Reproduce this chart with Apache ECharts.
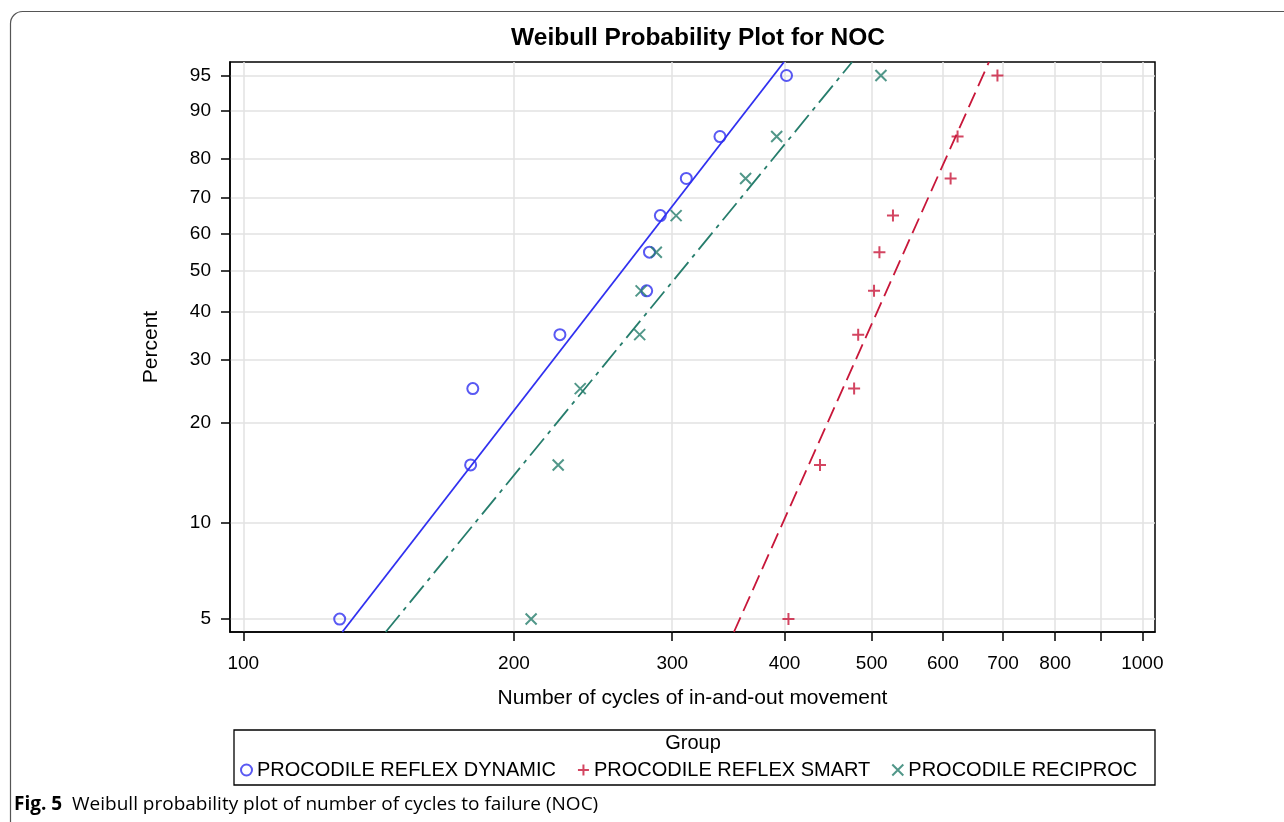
<!DOCTYPE html>
<html>
<head>
<meta charset="utf-8">
<title>Weibull Probability Plot for NOC</title>
<script src="https://cdn.jsdelivr.net/npm/echarts@6/dist/echarts.min.js"></script>
<style>
    html, body { margin: 0; padding: 0; background: #fff; }
    #chart { width: 1284px; height: 822px; }
</style>
</head>
<body>
<div id="chart"></div>
<script>
/*
 * Weibull probability plot, three file groups.
 * x is drawn on a log10 axis, y on the Weibull scale ln(-ln(1-p)).
 */

var GROUPS = ["PROCODILE REFLEX DYNAMIC", "PROCODILE REFLEX SMART",
    "PROCODILE RECIPROC"];
var COLORS = ["#3030f0", "#c8173a", "#267d6c"];

// plotting positions (percent) shared by every group
var percentRanks = [5, 15, 25, 35, 45, 55, 65, 75, 85, 95];

// cycles to failure, sorted, one value per percent rank
var dynamicCycles = [128, 179, 180, 225, 281, 283, 291, 311, 339, 402];
var smartCycles = [404, 438, 478, 483, 503, 510, 528, 612, 623, 690];
var reciprocCycles = [209, 224, 237, 276, 277, 288, 303, 362, 392, 512];

// fitted Weibull lines: shape and scale per group
var fitShape = [3.77, 6.53, 3.57];
var fitScale = [290.7, 562, 340];

// axis ticks
var xTicks = [100, 200, 300, 400, 500, 600, 700, 800, 900, 1000];
var xLabels = [100, 200, 300, 400, 500, 600, 700, 800, 1000];
var yTicks = [5, 10, 20, 30, 40, 50, 60, 70, 80, 90, 95];

var FONT = "Liberation Sans, Arial, sans-serif";
var X_MIN = 1.9852, X_MAX = 3.0141;
var Y_MIN = -3.067, Y_MAX = 1.198;

function weib(p)
{
    return Math.log(-Math.log(1 - p / 100));
}

function lg(v)
{
    return Math.log(v) / Math.LN10;
}

function make_points(cycles)
{
    var out = [];
    for (var i = 0; i < cycles.length; i++)
        out.push([lg(cycles[i]), weib(percentRanks[i])]);
    return out;
}

function make_fit(k)
{
    // straight line in probability space, from bottom edge to top edge
    var out = [];
    [Y_MIN, Y_MAX].forEach(function (w) {
        out.push([lg(fitScale[k] * Math.exp(w / fitShape[k])), w]);
    });
    return out;
}

var SYMBOLS = [
    "circle",
    "path://M0,5L10,5M5,0L5,10",
    "path://M0,0L10,10M10,0L0,10"
];
var SYMBOL_SIZE = [11, 12, 11];
var LINE_DASH = ["solid", [16, 7], [22, 6, 4, 6]];
var allCycles = [dynamicCycles, smartCycles, reciprocCycles];

var series = [];
for (var k = 0; k < GROUPS.length; k++) {
    series.push({
        name: GROUPS[k] + " fit",
        type: "line",
        data: make_fit(k),
        symbol: "none",
        silent: true,
        z: 2,
        lineStyle: { color: COLORS[k], width: 1.8, type: LINE_DASH[k] }
    });
}
for (var k = 0; k < GROUPS.length; k++) {
    series.push({
        name: GROUPS[k],
        type: "scatter",
        data: make_points(allCycles[k]),
        symbol: SYMBOLS[k],
        symbolSize: SYMBOL_SIZE[k],
        z: 3,
        itemStyle: {
            color: k == 0 ? "rgba(0,0,0,0)" : COLORS[k],
            borderColor: COLORS[k],
            borderWidth: 2
        }
    });
}

var legend_data = [];
for (var k = 0; k < GROUPS.length; k++) {
    legend_data.push({
        name: GROUPS[k],
        icon: SYMBOLS[k],
        itemStyle: {
            color: k == 0 ? "rgba(0,0,0,0)" : COLORS[k],
            borderColor: COLORS[k],
            borderWidth: 2
        }
    });
}

var chart = echarts.init(document.getElementById("chart"), null,
    { renderer: "canvas" });

var option = {
    animation: false,
    backgroundColor: "#fff",
    textStyle: { fontFamily: FONT },
    title: {
        text: "Weibull Probability Plot for NOC",
        left: 693,
        top: 21,
        textAlign: "center",
        textStyle: { fontFamily: FONT, fontSize: 24.5, fontWeight: "bold",
            color: "#000" }
    },
    grid: {
        left: 230, right: 129, top: 62, bottom: 190,
        show: true,
        borderColor: "#000",
        borderWidth: 1.5,
        backgroundColor: "#fff"
    },
    legend: {
        data: legend_data,
        left: 235,
        top: 755,
        itemGap: 21,
        itemWidth: 11,
        itemHeight: 11,
        selectedMode: false,
        textStyle: { fontFamily: FONT, fontSize: 20, color: "#000" }
    },
    xAxis: {
        type: "value",
        min: X_MIN,
        max: X_MAX,
        name: "Number of cycles of in-and-out movement",
        nameLocation: "middle",
        nameGap: 56,
        nameTextStyle: { fontFamily: FONT, fontSize: 21, color: "#000" },
        axisLine: { onZero: false, lineStyle: { color: "#000", width: 1.5 } },
        axisTick: {
            length: 9,
            lineStyle: { color: "#000", width: 1.5 },
            customValues: xTicks.map(lg)
        },
        axisLabel: {
            margin: 22,
            fontSize: 19,
            color: "#000",
            customValues: xLabels.map(lg),
            formatter: function (v) { return Math.round(Math.pow(10, v)); }
        },
        splitLine: { show: true, lineStyle: { color: "#e2e2e2", width: 1.5 } }
    },
    yAxis: {
        type: "value",
        min: Y_MIN,
        max: Y_MAX,
        name: "Percent",
        nameLocation: "middle",
        nameGap: 68,
        nameRotate: 90,
        nameTextStyle: { fontFamily: FONT, fontSize: 21, color: "#000" },
        axisLine: { onZero: false, lineStyle: { color: "#000", width: 1.5 } },
        axisTick: {
            length: 9,
            lineStyle: { color: "#000", width: 1.5 },
            customValues: yTicks.map(weib)
        },
        axisLabel: {
            margin: 19,
            fontSize: 19,
            color: "#000",
            customValues: yTicks.map(weib),
            formatter: function (v) {
                return Math.round(100 * (1 - Math.exp(-Math.exp(v))));
            }
        },
        splitLine: { show: true, lineStyle: { color: "#e2e2e2", width: 1.5 } }
    },
    graphic: [
        {
            // page frame
            type: "rect",
            shape: { x: 10.5, y: 11.5, width: 1320, height: 860, r: 12 },
            style: { fill: "none", stroke: "#555", lineWidth: 1.2 },
            silent: true
        },
        {
            // legend box
            type: "rect",
            shape: { x: 234, y: 730, width: 921, height: 55 },
            style: { fill: "none", stroke: "#000", lineWidth: 1.3 },
            silent: true
        },
        {
            type: "text",
            x: 693,
            y: 743,
            style: {
                text: "Group",
                font: "20px " + FONT,
                fill: "#000",
                align: "center",
                verticalAlign: "middle"
            },
            silent: true
        },
        {
            type: "text",
            x: 14,
            y: 805,
            style: {
                text: "{b|Fig. 5}  Weibull probability plot of number of cycles to failure (NOC)",
                font: "19px 'Open Sans', 'Noto Sans', sans-serif",
                fill: "#000",
                verticalAlign: "middle",
                rich: {
                    b: {
                        fontFamily: "Open Sans, Noto Sans, sans-serif",
                        fontSize: 19,
                        fontWeight: "bold",
                        fill: "#000"
                    }
                }
            },
            silent: true
        }
    ],
    series: series
};

chart.setOption(option);
</script>
</body>
</html>
